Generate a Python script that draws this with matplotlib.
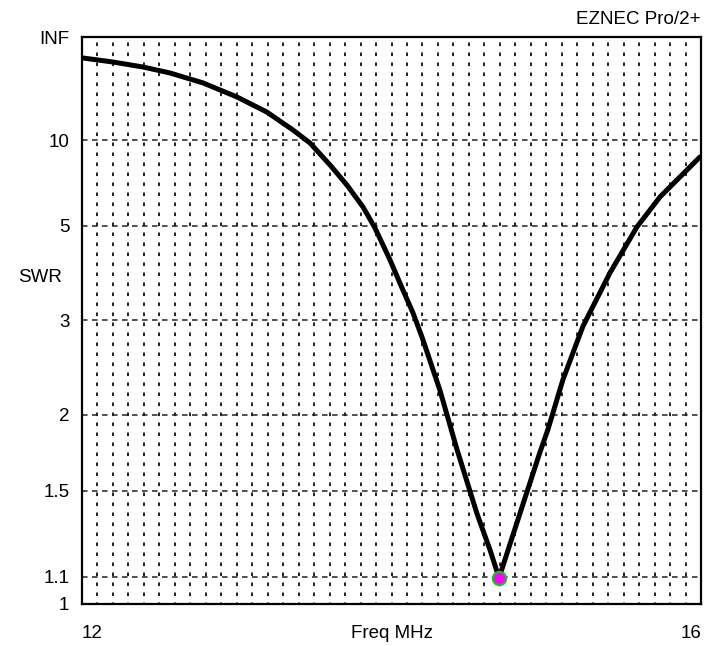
import numpy as np
import matplotlib
matplotlib.use('Agg')
import matplotlib.pyplot as plt
from matplotlib.ticker import FixedLocator

# SWR sweep
freq_mhz = [12.006, 12.200, 12.394, 12.569, 12.782, 13.002, 13.195, 13.363,
            13.473, 13.603, 13.712, 13.816, 13.893, 13.990, 14.074, 14.139,
            14.197, 14.313, 14.423, 14.552, 14.637, 14.695, 14.753, 14.830,
            14.959, 15.011, 15.108, 15.237, 15.412, 15.586, 15.735, 15.993]
swr = [53.0, 44.3, 36.8, 30.5, 23.7, 17.9, 14.1, 11.2,
       9.70, 7.86, 6.66, 5.67, 4.94, 4.09, 3.48, 3.11,
       2.78, 2.21, 1.75, 1.38, 1.21, 1.096, 1.21, 1.38,
       1.73, 1.89, 2.31, 2.92, 3.81, 4.97, 6.09, 8.45]

min_freq = 14.695
min_swr = 1.096

swr_ticks = [1.0, 1.1, 1.5, 2, 3, 5, 10, 1e12]
swr_tick_labels = ['1', '1.1', '1.5', '2', '3', '5', '10', 'INF']
grid_swr = [1.1, 1.5, 2, 3, 5, 10]


# EZNEC draws SWR linear in reflection coefficient
def fwd(s):
    s = np.asarray(s, dtype=float)
    return (s - 1.0) / (s + 1.0)


def inv(r):
    r = np.asarray(r, dtype=float)
    with np.errstate(divide='ignore', invalid='ignore'):
        out = (1.0 + r) / (1.0 - r)
    return np.where(r < 1.0, out, 1e12)


plt.rcParams['font.family'] = ['Liberation Sans', 'DejaVu Sans']
plt.rcParams['lines.scale_dashes'] = False

fig = plt.figure(figsize=(7.08, 6.46), dpi=100)
ax = fig.add_axes([82 / 708, 1 - 604 / 646, 619 / 708, 567 / 646])

ax.set_yscale('function', functions=(fwd, inv))
ax.set_xlim(12, 16)
ax.set_ylim(1.0, 1e12)

# grid
for g in grid_swr:
    ax.axhline(g, color='#222222', lw=1.1, ls=(0, (4.0, 3.2)), zorder=1)
for f in np.arange(40)[1:] * 0.1 + 12:
    ax.axvline(f, color='#222222', lw=1.4, ls=(1.5, (2.6, 4.6)), zorder=1)

ax.plot(freq_mhz, swr, color='black', lw=3.6, solid_capstyle='round',
        solid_joinstyle='round', zorder=3)
ax.plot([min_freq], [min_swr], 'o', ms=9.5, mfc='#ff00ff', mec='#22bb22',
        mew=1.6, zorder=4)

ax.yaxis.set_major_locator(FixedLocator(swr_ticks))
ax.set_yticklabels(swr_tick_labels)
ax.yaxis.set_minor_locator(FixedLocator([]))
ax.set_xticks([12, 16])
ax.set_xticklabels(['12', '16'])
xl = ax.get_xticklabels()
xl[0].set_ha('left')
xl[1].set_ha('right')

ax.tick_params(axis='both', length=0, labelsize=13.5, colors='black')
ax.tick_params(axis='x', pad=15)
ax.tick_params(axis='y', pad=9)

for sp in ax.spines.values():
    sp.set_linewidth(1.6)
    sp.set_color('black')

ax.text(0.5, -29 / 567, 'Freq MHz', transform=ax.transAxes, ha='center',
        va='center', fontsize=13.5)
fig.text(18 / 708, 1 - 277 / 646, 'SWR', ha='left', va='center', fontsize=13.5)
fig.text(700 / 708, 1 - 20 / 646, 'EZNEC Pro/2+', ha='right', va='center',
         fontsize=13.5)

fig.savefig('out.png', dpi=100)
